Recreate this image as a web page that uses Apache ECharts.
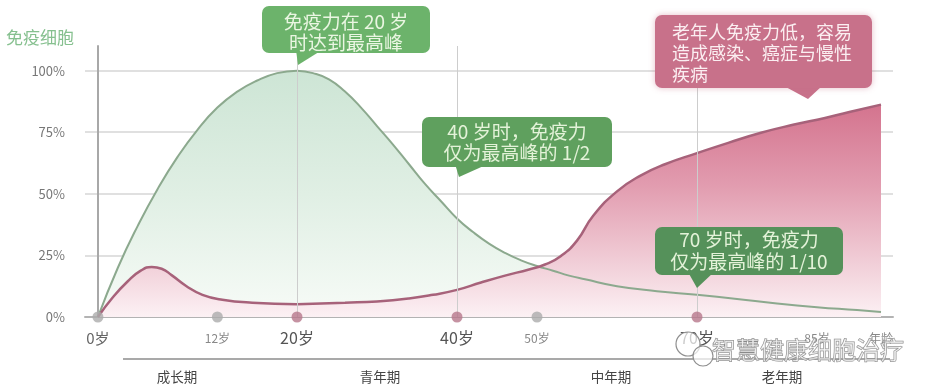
<!DOCTYPE html>
<html><head><meta charset="utf-8">
<script src="https://cdn.jsdelivr.net/npm/echarts@6/dist/echarts.min.js"></script>
<style>html,body{margin:0;padding:0;background:#fff}#c{width:926px;height:389px}</style>
</head><body><div id="c"></div>
<script>
// ---- data ----
const immuneAges   = [0,2,4,6,8,10,12,14,16,18,20,22,24,26,28,30,32,34,36,38,40,42,44,46,48,50,52,54,56,60,65,70,75,80,85,90,93];
const immuneValues = [0,20,37,52,65,76,85,91.5,96,99,100,99,96.5,91.5,85,77.5,70,62,54,47,40,34.5,29.8,26,23,20.7,18.8,16.8,15.3,12.5,10.5,9,7.3,5.5,4,2.8,2];
const agingAges    = [0,1.5,3,4.3,5.4,6.4,7.4,8.9,10.5,12.5,15.5,20,22,26,30,34,37,40,43,46,49,51,53,55,57,60,63,66,70,74,78,82,86,90,93];
const agingValues  = [0,8,14.5,18.8,20.3,19.6,17,12.5,9,7,5.8,5.2,5.4,5.8,6.3,7.5,9,11,14,16.8,19.3,21.3,24.8,31,41,51,57.5,62,66.5,70.8,74.8,78,80.8,83.9,86.2];
const tickAges     = [0,12,20,40,50,70,85];
const majorAges    = [20,40,70];
const dotAges      = [0,12,20,40,50,70];
const ageAxisName  = '年龄';
const ageAxisNameAt = 93;
const yTicks       = [0,25,50,75,100];
const yAxisTitle   = '免疫细胞';
const periods      = ['成长期','青年期','中年期','老年期'];
const calloutPeak  = ['免疫力在 20 岁','时达到最高峰'];
const calloutOld   = ['老年人免疫力低，容易','造成感染、癌症与慢性','疾病'];
const callout40    = ['40 岁时，免疫力','仅为最高峰的 1/2'];
const callout70    = ['70 岁时，免疫力','仅为最高峰的 1/10'];
const watermark    = '智慧健康细胞治疗';

// ---- chart ----
const FF = "'Noto Sans CJK SC','Noto Sans',sans-serif";
const chart = echarts.init(document.getElementById('c'), null, {renderer:'canvas'});
const splitAt = 20;
function pts(ages, vals, lo, hi){ return ages.map((a,i)=>[a,vals[i]]).filter(p=>p[0]>=lo && p[0]<=hi); }

const greenFill = new echarts.graphic.LinearGradient(0,71,0,317,[
  {offset:0,color:'#cde5d5'},{offset:0.5,color:'#e0efe4'},{offset:1,color:'#f7fbf7'}],true);
const pinkFill = new echarts.graphic.LinearGradient(0,100,0,317,[
  {offset:0,color:'#d3718c'},{offset:0.4,color:'#e29db0'},{offset:0.8,color:'#f3d5dd'},{offset:1,color:'#fcf1f4'}],true);

const ranges = [[-5,splitAt],[splitAt,200]];
const series = [];
ranges.forEach((r,g)=>{
  const base = {type:'line', xAxisIndex:g, yAxisIndex:g, smooth:0.5, symbol:'none', silent:true, clip:false};
  series.push(Object.assign({}, base, {z:1, data:pts(immuneAges,immuneValues,r[0],r[1]), lineStyle:{width:0,opacity:0}, areaStyle:{color:greenFill,opacity:1}}));
  series.push(Object.assign({}, base, {z:2, data:pts(agingAges,agingValues,r[0],r[1]), lineStyle:{width:0,opacity:0}, areaStyle:{color:pinkFill,opacity:1}}));
  series.push(Object.assign({}, base, {z:3, data:pts(immuneAges,immuneValues,r[0],r[1]), lineStyle:{color:'#8ca98e',width:2}}));
  series.push(Object.assign({}, base, {z:4, data:pts(agingAges,agingValues,r[0],r[1]), lineStyle:{color:'#a7627a',width:2.5}}));
  const dots = dotAges.filter(a=> g===0 ? a<splitAt : a>=splitAt).map(a=>({value:[a,0], itemStyle:{color: majorAges.includes(a)?'#b7778b':'#ababab'}}));
  const sc = {type:'scatter', xAxisIndex:g, yAxisIndex:g, z:6, symbolSize:11, clip:false, silent:true, data:dots};
  if (g===1) sc.markLine = {silent:true, symbol:'none', label:{show:false}, animation:false,
      lineStyle:{color:'#cdcdcd', width:1, type:'solid'}, data: majorAges.map(a=>({xAxis:a}))};
  series.push(sc);
});

function xLabel(v){
  if (v===ageAxisNameAt) return '{s|'+ageAxisName+'}';
  if (majorAges.includes(v)) return '{b|'+v+'岁}';
  if (v===0) return '{m|'+v+'岁}';
  return '{s|'+v+'岁}';
}
const rich = {
  b:{fontSize:16, color:'#555', lineHeight:20, fontFamily:FF},
  m:{fontSize:15, color:'#666', lineHeight:20, fontFamily:FF},
  s:{fontSize:12, color:'#888', lineHeight:20, fontFamily:FF}
};
const allXLabels = tickAges.concat([ageAxisNameAt]);
function xAxis(g, min, max){
  return {gridIndex:g, type:'value', min:min, max:max,
    axisLine:{show:true, onZero:false, lineStyle:{color:'#b3b3b3', width:2}},
    axisTick:{show:false}, splitLine:{show:false},
    axisLabel:{customValues: allXLabels.filter(a=> g===0 ? a<splitAt : a>=splitAt), formatter:xLabel, rich:rich, margin:11}};
}
function yAxis(g){
  return {gridIndex:g, type:'value', min:0, max:110, interval:25,
    axisLine:{show:g===0, lineStyle:{color:'#a8a8a8', width:2}},
    axisTick:{show:false},
    axisLabel:{show:g===0, customValues:yTicks, formatter:v=>v+'%', color:'#777', fontSize:13, margin:20, fontFamily:FF, showMaxLabel:true, showMinLabel:true},
    splitLine:{show:true, showMinLine:false, showMaxLine:false, lineStyle:{color:'#d6d6d6', width:1.5}}};
}

function callout(box, fill, lines, ptr, textOpt){
  const els = [
    {type:'polygon', shape:{points:ptr}, style:{fill:fill}, z:100},
    {type:'rect', shape:Object.assign({r:7}, box), style:Object.assign({fill:fill}, textOpt.shadow||{}), z:100}
  ];
  lines.forEach((t,i)=>{
    els.push({type:'text', z:101, style:{text:t, x:textOpt.x, y:textOpt.y0 + i*textOpt.lh, fill:textOpt.color,
      fontSize:textOpt.size, fontFamily:FF, align:textOpt.align, verticalAlign:'middle'}});
  });
  return els;
}

const periodX = [177,380,611,782];
let graphics = [
  {type:'text', style:{text:yAxisTitle, x:6, y:38, fill:'#86c08f', fontSize:17, fontFamily:FF, verticalAlign:'middle'}},
  {type:'line', shape:{x1:123,y1:359,x2:890,y2:359}, style:{stroke:'#a9a9a9', lineWidth:2}},
];
periods.forEach((p,i)=>graphics.push({type:'text', style:{text:p, x:periodX[i], y:377, fill:'#444', fontSize:13.5, fontFamily:FF, align:'center', verticalAlign:'middle'}}));
graphics = graphics.concat(
  callout({x:262,y:6,width:168,height:47}, '#6cb36b', calloutPeak, [[296,50],[322,50],[298,65]],
    {x:346, y0:22, lh:21, color:'#eaf6e2', size:19, align:'center'}),
  callout({x:655,y:15,width:217,height:73}, '#c8718a', calloutOld, [[784,86],[822,86],[808,99]],
    {x:672, y0:32, lh:21, color:'#fbeef1', size:18, align:'left', shadow:{shadowBlur:6, shadowColor:'rgba(200,110,135,0.45)'}}),
  callout({x:422,y:117,width:190,height:50}, '#5fa05e', callout40, [[455,164],[488,164],[459,177]],
    {x:517, y0:132, lh:21, color:'#e3f2d8', size:19, align:'center'}),
  callout({x:655,y:227,width:188,height:48}, '#55915a', callout70, [[688,272],[714,272],[697,288]],
    {x:749, y0:240, lh:22, color:'#e3f2d8', size:19, align:'center'})
);
// watermark
graphics.push({type:'circle', shape:{cx:688,cy:344,r:12}, style:{fill:'rgba(255,255,255,0.7)', stroke:'#8f8f8f', lineWidth:1.2}, z:120});
graphics.push({type:'circle', shape:{cx:703,cy:356,r:10}, style:{fill:'rgba(255,255,255,0.7)', stroke:'#8f8f8f', lineWidth:1.2}, z:120});
graphics.push({type:'text', z:120, style:{text:watermark, x:712, y:350, fill:'rgba(255,255,255,0.55)', stroke:'#8a8a8a', lineWidth:1, fontSize:24, fontFamily:FF, verticalAlign:'middle'}});

chart.setOption({
  animation:false,
  backgroundColor:'#fff',
  grid:[{left:85, top:46, width:212, height:271},{left:297, top:46, width:596, height:271}],
  xAxis:[xAxis(0,-1.3,20), xAxis(1,20,94.5)],
  yAxis:[yAxis(0), yAxis(1)],
  series:series,
  graphic:graphics
});
</script></body></html>
